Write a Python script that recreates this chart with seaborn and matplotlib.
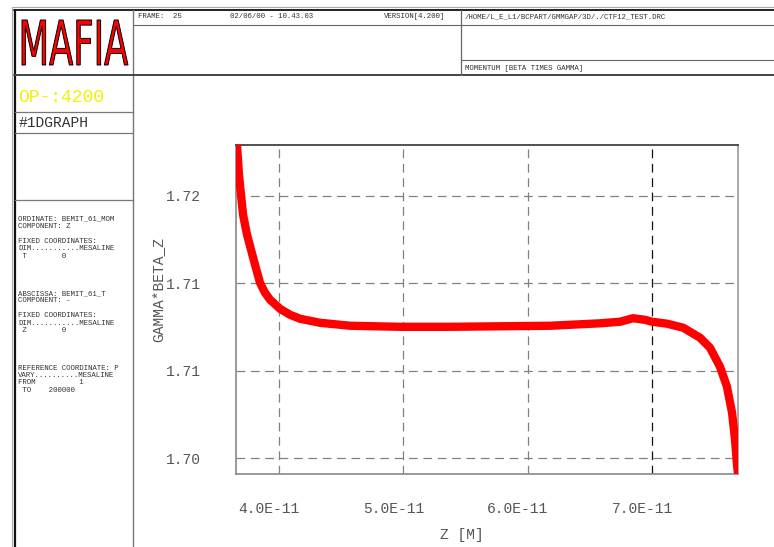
import matplotlib
matplotlib.use("Agg")
import matplotlib.pyplot as plt
import seaborn as sns
from matplotlib.ticker import AutoMinorLocator, FixedLocator, FixedFormatter, FuncFormatter
from matplotlib.textpath import TextPath
from matplotlib.patches import PathPatch
from matplotlib.font_manager import FontProperties
from matplotlib.transforms import Affine2D, ScaledTranslation

# curve: Z [M] vs GAMMA*BETA_Z
z_m = [3.662e-11, 3.678e-11, 3.695e-11, 3.711e-11, 3.743e-11, 3.775e-11, 3.807e-11,
       3.847e-11, 3.887e-11, 3.928e-11, 4.008e-11, 4.088e-11, 4.169e-11, 4.330e-11,
       4.571e-11, 4.973e-11, 5.375e-11, 5.777e-11, 6.178e-11, 6.580e-11, 6.741e-11,
       6.846e-11, 6.942e-11, 6.998e-11, 7.119e-11, 7.248e-11, 7.384e-11, 7.465e-11,
       7.545e-11, 7.601e-11, 7.642e-11, 7.666e-11, 7.682e-11, 7.690e-11]
gamma_beta_z = [1.72291, 1.72120, 1.72000, 1.71891, 1.71777, 1.71691, 1.71606,
                1.71503, 1.71446, 1.71406, 1.71354, 1.71320, 1.71297, 1.71274,
                1.71257, 1.71251, 1.71251, 1.71254, 1.71257, 1.71271, 1.71280,
                1.71300, 1.71291, 1.71280, 1.71269, 1.71246, 1.71189, 1.71131,
                1.71023, 1.70909, 1.70760, 1.70606, 1.70463, 1.70411]

x_ticks = [4.0e-11, 5.0e-11, 6.0e-11, 7.0e-11]
y_ticks = [1.705, 1.710, 1.715, 1.720]
y_tick_labels = ["1.70", "1.71", "1.71", "1.72"]

header_texts = ["FRAME:  25", "02/06/00 - 10.43.03", "VERSION[4.200]",
                "/HOME/L_E_L1/BCPART/GMMGAP/3D/./CTF12_TEST.DRC",
                "MOMENTUM [BETA TIMES GAMMA]"]
info_lines = ["ORDINATE: BEMIT_61_MOM", "COMPONENT: Z", "",
              "FIXED COORDINATES:", "DIM...........MESALINE", " T        0",
              "", "", "", "",
              "ABSCISSA: BEMIT_61_T", "COMPONENT: -", "",
              "FIXED COORDINATES:", "DIM...........MESALINE", " Z        0",
              "", "", "", "",
              "REFERENCE COORDINATE: P", "VARY..........MESALINE",
              "FROM          1", " TO    200000"]

sns.set_style("white")
mono = ["Liberation Mono", "DejaVu Sans Mono"]
plt.rcParams["font.family"] = mono

W, H = 774, 547
fig = plt.figure(figsize=(W / 100, H / 100), dpi=100)

# ---- page frame drawn in pixel coordinates ----
ov = fig.add_axes([0, 0, 1, 1])
ov.set_xlim(0, W)
ov.set_ylim(H, 0)
ov.axis("off")

ov.plot([12, W], [7, 7], color="#aaaaaa", lw=0.8)
ov.plot([14, W], [9.5, 9.5], color="#222222", lw=1.4)
ov.plot([12, 12], [7, H], color="#aaaaaa", lw=0.8)
ov.plot([14.5, 14.5], [9.5, H], color="#111111", lw=1.6)
ov.plot([133, 133], [9.5, H], color="#777777", lw=1.0)
ov.plot([14, W], [75, 75], color="#444444", lw=1.4)
ov.plot([133, W], [25, 25], color="#666666", lw=0.8)
ov.plot([461, 461], [9.5, 75], color="#666666", lw=0.9)
ov.plot([461, W], [60, 60], color="#666666", lw=0.8)
for yy in [112, 133, 200]:
    ov.plot([14.5, 133], [yy, yy], color="#777777", lw=0.9)

# MAFIA logo
tp = TextPath((0, 0), "MAFIA", size=1, prop=FontProperties(family="DejaVu Sans"))
bb = tp.get_extents()
logo_tr = (Affine2D().translate(-bb.x0, -bb.y0)
           .scale(106 / bb.width, -45 / bb.height).translate(22, 65))
ov.add_patch(PathPatch(logo_tr.transform_path(tp), facecolor="#ff0000",
                       edgecolor="black", lw=0.7))

small = dict(fontsize=5.3, color="#333333", va="center", ha="left")
ov.text(138, 17, header_texts[0], **small)
ov.text(230, 17, header_texts[1], **small)
ov.text(384, 17, header_texts[2], **small)
ov.text(465, 17, header_texts[3], **small)
ov.text(465, 68, header_texts[4], **small)

ov.text(18, 97, "OP-:4200", fontsize=13, color="#f2f200", va="center", ha="left")
ov.text(19, 123, "#1DGRAPH", fontsize=10.5, color="#333333", va="center", ha="left")
for i, line in enumerate(info_lines):
    ov.text(18, 219 + i * 7.45, line, **small)

# ---- the graph ----
ax = fig.add_axes([236 / W, (H - 474) / H, (738 - 236) / W, (474 - 145) / H])
sns.lineplot(x=z_m, y=gamma_beta_z, ax=ax, color="#ff0000", lw=6,
             estimator=None, sort=False, zorder=3)
ax.set_xlim(3.654e-11, 7.690e-11)
ax.set_ylim(1.70409, 1.72291)

ax.xaxis.set_major_locator(FixedLocator(x_ticks))
ax.xaxis.set_major_formatter(FuncFormatter(lambda v, p: f"{v:.1E}"))
ax.yaxis.set_major_locator(FixedLocator(y_ticks))
ax.yaxis.set_major_formatter(FixedFormatter(y_tick_labels))
ax.xaxis.set_minor_locator(AutoMinorLocator(5))
ax.yaxis.set_minor_locator(AutoMinorLocator(5))

ax.tick_params(axis="both", which="major", direction="out", length=7,
               width=0.9, color="#777777", labelsize=10.5, labelcolor="#555555")
ax.tick_params(axis="x", which="major", pad=13)
ax.tick_params(axis="y", which="major", pad=18)
ax.tick_params(axis="both", which="minor", direction="out", length=2.5,
               width=1.0, color="#333333")

ax.grid(True, which="major", ls=(0, (7, 4.5)), color="#808080", lw=0.9)
ax.xaxis.get_gridlines()[3].set_color("#111111")

for name, col in [("top", "#333333"), ("right", "#999999"),
                  ("left", "#888888"), ("bottom", "#888888")]:
    ax.spines[name].set_visible(True)
    ax.spines[name].set_color(col)
    ax.spines[name].set_linewidth(1.2)

for lbl in ax.get_xticklabels():
    lbl.set_transform(lbl.get_transform() + ScaledTranslation(-0.1, 0, fig.dpi_scale_trans))

ax.set_xlabel("Z [M]", fontsize=10.5, color="#555555")
ax.xaxis.set_label_coords(0.45, -0.165)
ax.set_ylabel("GAMMA*BETA_Z", fontsize=10.5, color="#555555")
ax.yaxis.set_label_coords(-0.14, 0.56)

fig.savefig("out.png", dpi=100)
